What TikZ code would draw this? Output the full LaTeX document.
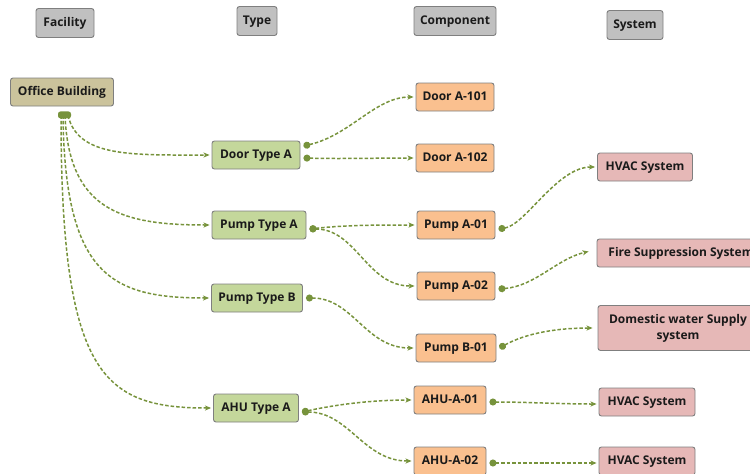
\documentclass[tikz,border=0pt]{standalone}
\usepackage{fontspec}
\setmainfont{Open Sans}
\usetikzlibrary{arrows.meta,calc}

\definecolor{hdrfill}{HTML}{C0C0C0}
\definecolor{hdrline}{HTML}{7F7F7F}
\definecolor{facfill}{HTML}{CBC39C}
\definecolor{typefill}{HTML}{C4D79B}
\definecolor{compfill}{HTML}{FAC08F}
\definecolor{sysfill}{HTML}{E6B8B7}
\definecolor{linkgreen}{HTML}{77933C}
\definecolor{txt}{HTML}{1A1A1A}

\tikzset{
  box/.style={draw=hdrline, line width=0.9pt, rounded corners=2.5pt,
    font=\fontsize{12}{16}\selectfont\bfseries, text=txt, inner sep=2pt,
    text height=10pt, text depth=2.5pt,
    minimum height=28pt, align=center},
  hdr/.style={box, fill=hdrfill, minimum height=29pt},
  facbox/.style={box, fill=facfill},
  typebox/.style={box, fill=typefill},
  compbox/.style={box, fill=compfill},
  sysbox/.style={box, fill=sysfill},
  link/.style={draw=linkgreen, line width=1.5pt, dash pattern=on 3.5pt off 2pt,
    {Circle[length=7pt,fill=linkgreen]}-{Stealth[length=6pt,width=5pt,inset=1.5pt]},
    shorten >=2pt},
  trunk/.style={draw=linkgreen, line width=1.5pt, dash pattern=on 3.5pt off 2pt,
    -{Stealth[length=6pt,width=5pt,inset=1.5pt]}, shorten >=2pt}
}

\begin{document}
\begin{tikzpicture}[x=1pt,y=-1pt]
\useasboundingbox (0,0) rectangle (750,474);

% column headers
\node[hdr, minimum width=58pt] (hfac) at (65,23) {Facility};
\node[hdr, minimum width=40pt] (htype) at (257,21) {Type};
\node[hdr, minimum width=82pt] (hcomp) at (455,21) {Component};
\node[hdr, minimum width=56pt] (hsys) at (635,25) {System};

% facility
\node[facbox, minimum width=103pt] (ob) at (62,92) {Office Building};

% types
\node[typebox, minimum width=88pt] (dta) at (256,155) {Door Type A};
\node[typebox, minimum width=94pt] (pta) at (259,225) {Pump Type A};
\node[typebox, minimum width=91pt] (ptb) at (257,298) {Pump Type B};
\node[typebox, minimum width=85pt] (ata) at (256,408) {AHU Type A};

% components
\node[compbox, minimum width=78pt] (d101) at (455,97) {Door A-101};
\node[compbox, minimum width=78pt] (d102) at (455,158) {Door A-102};
\node[compbox, minimum width=78pt] (pa01) at (456,225) {Pump A-01};
\node[compbox, minimum width=78pt] (pa02) at (456,286) {Pump A-02};
\node[compbox, minimum width=80pt] (pb01) at (456,348) {Pump B-01};
\node[compbox, minimum width=72pt] (ahu1) at (450,400) {AHU-A-01};
\node[compbox, minimum width=72pt] (ahu2) at (450,461) {AHU-A-02};

% systems
\node[sysbox, minimum width=95pt] (hvac1) at (645,167) {HVAC System};
\node[sysbox, minimum width=168pt] (fire) at (681,253) {Fire Suppression System};
\node[sysbox, minimum width=160pt, minimum height=45pt, text height=, text depth=] (dom) at (678,328) {Domestic water Supply\\system};
\node[sysbox, minimum width=96pt] (hvac2) at (647,402) {HVAC System};
\node[sysbox, minimum width=96pt] (hvac3) at (647,461) {HVAC System};

% facility to types
\coordinate (obd) at ($(ob.south)+(6,9)$);
\coordinate (obc) at ($(ob.south)+(3,9)$);
\coordinate (obb) at ($(ob.south)+(1,9)$);
\coordinate (oba) at ($(ob.south)+(-1,9)$);
\fill[linkgreen, rounded corners=2.5pt] ($(ob.south)+(-4,5)$) rectangle ($(ob.south)+(9,12)$);
\draw[trunk] (obd) .. controls ($(obd)+(10,42)$) and ($(dta.west)+(-80,0)$) .. (dta.west);
\draw[trunk] (obc) .. controls ($(obc)+(4,95)$) and ($(pta.west)+(-90,0)$) .. (pta.west);
\draw[trunk] (obb) .. controls ($(obb)+(2,160)$) and ($(ptb.west)+(-100,0)$) .. (ptb.west);
\draw[trunk] (oba) .. controls ($(oba)+(0,260)$) and ($(ata.west)+(-110,0)$) .. (ata.west);

% types to components
\draw[link] ($(dta.east)+(3,-9)$) .. controls ($(dta.east)+(50,-20)$) and ($(d101.west)+(-40,0)$) .. (d101.west);
\draw[link] ($(dta.east)+(3,3)$) .. controls ($(dta.east)+(40,4)$) and ($(d102.west)+(-40,0)$) .. (d102.west);
\draw[link] ($(pta.east)+(3,4)$) .. controls ($(pta.east)+(40,0)$) and ($(pa01.west)+(-40,0)$) .. (pa01.west);
\draw[link] ($(pta.east)+(3,4)$) .. controls ($(pta.east)+(50,4)$) and ($(pa02.west)+(-50,0)$) .. (pa02.west);
\draw[link] ($(ptb.east)+(3,0)$) .. controls ($(ptb.east)+(50,0)$) and ($(pb01.west)+(-50,0)$) .. (pb01.west);
\draw[link] ($(ata.east)+(3,4)$) .. controls ($(ata.east)+(40,-4)$) and ($(ahu1.west)+(-40,0)$) .. (ahu1.west);
\draw[link] ($(ata.east)+(3,4)$) .. controls ($(ata.east)+(50,4)$) and ($(ahu2.west)+(-50,0)$) .. (ahu2.west);

% components to systems
\draw[link] ($(pa01.east)+(3,4)$) .. controls ($(pa01.east)+(30,0)$) and ($(hvac1.west)+(-40,0)$) .. (hvac1.west);
\draw[link] ($(pa02.east)+(3,3)$) .. controls ($(pa02.east)+(40,0)$) and ($(fire.west)+(-40,6)$) .. ($(fire.west)+(-6,-2)$);
\draw[link] ($(pb01.east)+(3,0)$) .. controls ($(pb01.east)+(30,-15)$) and ($(dom.west)+(-40,0)$) .. ($(dom.west)+(-3,0)$);
\draw[link] ($(ahu1.east)+(3,2)$) .. controls ($(ahu1.east)+(40,2)$) and ($(hvac2.west)+(-40,2)$) .. ($(hvac2.west)+(0,2)$);
\draw[link] ($(ahu2.east)+(3,2)$) .. controls ($(ahu2.east)+(40,2)$) and ($(hvac3.west)+(-40,2)$) .. ($(hvac3.west)+(0,2)$);
\end{tikzpicture}
\end{document}
